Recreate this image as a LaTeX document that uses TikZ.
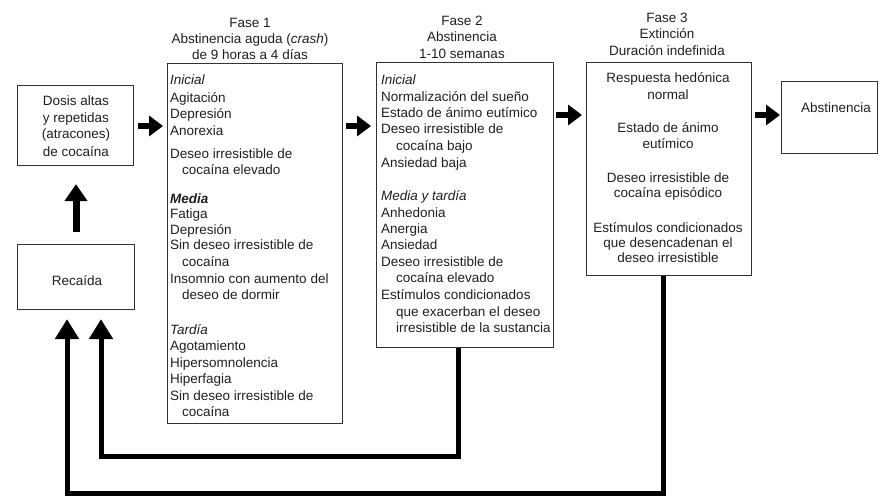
\documentclass[tikz,border=0pt]{standalone}
\usepackage{fontspec}
\setmainfont{Liberation Sans}
\usetikzlibrary{arrows.meta}
\begin{document}
\begin{tikzpicture}[x=1pt,y=-1pt,
  box/.style={draw=black!80, line width=1.1pt, inner sep=0pt, anchor=north west},
  txt/.style={inner sep=0pt, text=black!88, font=\fontsize{13.5}{16.5}\selectfont},
  ltxt/.style={txt, anchor=base west},
  ctxt/.style={txt, anchor=base},
  fatarrow/.style={line width=6.5pt, -{Triangle[length=14pt,width=20pt]}},
  uparrow/.style={line width=7pt, -{Triangle[length=17pt,width=22pt]}},
  loopline/.style={line width=5pt, line join=miter, -{Triangle[length=20pt,width=23pt]}}]
\useasboundingbox (0,0) rectangle (880,496);

% boxes
\node[box, minimum width=116pt, minimum height=80pt] (dosis) at (17,85) {};
\node[box, minimum width=117pt, minimum height=65pt] (rec) at (17,244) {};
\node[box, minimum width=175pt, minimum height=360pt] (f1) at (167,63) {};
\node[box, minimum width=177pt, minimum height=285pt] (f2) at (376,62) {};
\node[box, minimum width=165pt, minimum height=213pt] (f3) at (586,62) {};
\node[box, minimum width=96pt, minimum height=72pt] (abs) at (781,81) {};

% headings
\node[ctxt] (h1a) at (250,27.5) {Fase 1};
\node[ctxt] (h1b) at (250,43.5) {Abstinencia aguda ({\itshape crash})};
\node[ctxt] (h1c) at (250,59) {de 9 horas a 4 días};
\node[ctxt] (h2a) at (462,25) {Fase 2};
\node[ctxt] (h2b) at (462,41) {Abstinencia};
\node[ctxt] (h2c) at (462,58) {1-10 semanas};
\node[ctxt] (h3a) at (667,22) {Fase 3};
\node[ctxt] (h3b) at (667,38) {Extinción};
\node[ctxt] (h3c) at (667,55) {Duración indefinida};

% side boxes text
\node[ctxt] (d1) at (76,105) {Dosis altas};
\node[ctxt] (d2) at (76,122) {y repetidas};
\node[ctxt] (d3) at (76,138) {(atracones)};
\node[ctxt] (d4) at (76,156) {de cocaína};
\node[ctxt] (r1) at (77,285) {Recaída};
\node[ctxt] (ab1) at (836,112) {Abstinencia};

% Fase 1 text
\foreach \xx/\yy/\s [count=\i] in {
  170/84/{\itshape Inicial},
  170/102/Agitación,
  170/118/Depresión,
  170/135/Anorexia,
  170/158/Deseo irresistible de,
  182/174/cocaína elevado,
  170/203/{\bfseries\itshape Media},
  170/218/Fatiga,
  170/234/Depresión,
  170/249/Sin deseo irresistible de,
  182/266/cocaína,
  170/283/Insomnio con aumento del,
  182/299/deseo de dormir,
  170/334/{\itshape Tardía},
  170/350/Agotamiento,
  170/367/Hipersomnolencia,
  170/383/Hiperfagia,
  170/400/Sin deseo irresistible de,
  182/416/cocaína}
  \node[ltxt] (fa\i) at (\xx,\yy) {\s};

% Fase 2 text
\foreach \xx/\yy/\s [count=\i] in {
  381/84/{\itshape Inicial},
  381/101/Normalización del sueño,
  381/117/Estado de ánimo eutímico,
  381/133/Deseo irresistible de,
  396/150/cocaína bajo,
  381/167/Ansiedad baja,
  381/200/{\itshape Media y tardía},
  381/217/Anhedonia,
  381/233/Anergia,
  381/249/Ansiedad,
  381/266/Deseo irresistible de,
  396/282/cocaína elevado,
  381/299/Estímulos condicionados,
  396/316/que exacerban el deseo,
  396/332/irresistible de la sustancia}
  \node[ltxt] (fb\i) at (\xx,\yy) {\s};

% Fase 3 text
\foreach \yy/\s [count=\i] in {
  82/Respuesta hedónica,
  99/normal,
  132/Estado de ánimo,
  148/eutímico,
  182/Deseo irresistible de,
  197/cocaína episódico,
  232/Estímulos condicionados,
  247/que desencadenan el,
  262/deseo irresistible}
  \node[ctxt] (fc\i) at (668,\yy) {\s};

% helper coordinates
\coordinate (ya) at (0,126);
\coordinate (yb) at (0,115);
\coordinate (ux) at (76,0);
\coordinate (lo1) at (67,493);
\coordinate (lo2) at (101,456);

% forward arrows
\draw[fatarrow, shorten <=4pt, shorten >=4pt] (dosis.east |- ya) -- (f1.west |- ya);
\draw[fatarrow, shorten <=3pt, shorten >=5pt] (f1.east |- ya) -- (f2.west |- ya);
\draw[fatarrow, shorten <=2pt, shorten >=4pt] (f2.east |- yb) -- (f3.west |- yb);
\draw[fatarrow, shorten <=3pt, shorten >=1pt] (f3.east |- yb) -- (abs.west |- yb);

% relapse to dosis
\draw[uparrow, shorten <=12pt, shorten >=18pt] (rec.north -| ux) -- (dosis.south -| ux);

% loops back to relapse
\draw[loopline, shorten >=9pt] ([xshift=-5.5pt]f3.south) |- (lo1) -- (rec.south -| lo1);
\draw[loopline, shorten >=9pt] ([xshift=-6.5pt]f2.south) |- (lo2) -- (rec.south -| lo2);
\end{tikzpicture}
\end{document}
